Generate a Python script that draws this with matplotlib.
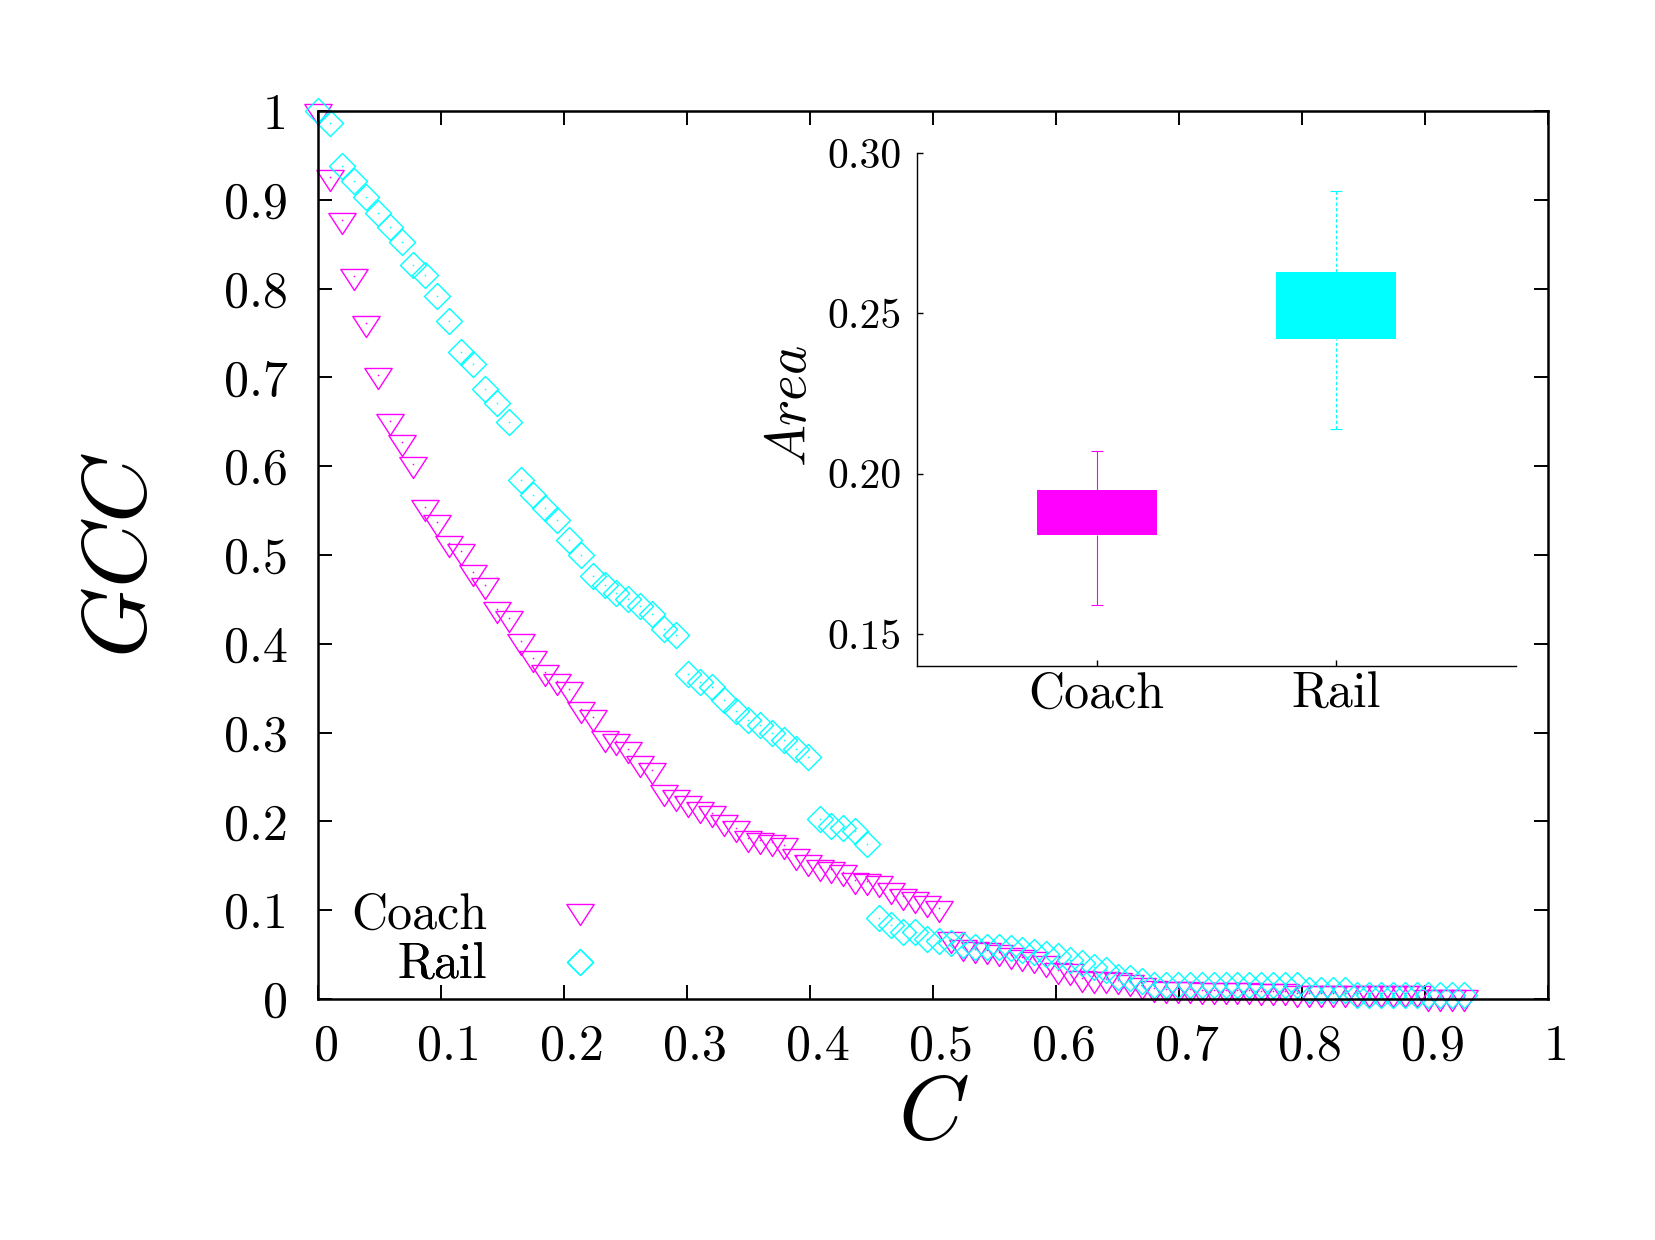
import numpy as np
import matplotlib
matplotlib.use('Agg')
import matplotlib.pyplot as plt
from matplotlib.path import Path
from matplotlib.transforms import ScaledTranslation

# ---------------- data ----------------
C = [0.0000, 0.0097, 0.0194, 0.0291, 0.0388, 0.0485, 0.0583, 0.0680, 0.0777, 0.0874,
     0.0971, 0.1068, 0.1165, 0.1262, 0.1359, 0.1456, 0.1553, 0.1650, 0.1748, 0.1845,
     0.1942, 0.2039, 0.2136, 0.2233, 0.2330, 0.2427, 0.2524, 0.2621, 0.2718, 0.2816,
     0.2913, 0.3010, 0.3107, 0.3204, 0.3301, 0.3398, 0.3495, 0.3592, 0.3689, 0.3786,
     0.3883, 0.3981, 0.4078, 0.4175, 0.4272, 0.4369, 0.4466, 0.4563, 0.4660, 0.4757,
     0.4854, 0.4951, 0.5049, 0.5146, 0.5243, 0.5340, 0.5437, 0.5534, 0.5631, 0.5728,
     0.5825, 0.5922, 0.6019, 0.6117, 0.6214, 0.6311, 0.6408, 0.6505, 0.6602, 0.6699,
     0.6796, 0.6893, 0.6990, 0.7087, 0.7184, 0.7282, 0.7379, 0.7476, 0.7573, 0.7670,
     0.7767, 0.7864, 0.7961, 0.8058, 0.8155, 0.8252, 0.8350, 0.8447, 0.8544, 0.8641,
     0.8738, 0.8835, 0.8932, 0.9029, 0.9126, 0.9223, 0.9320]

coach_gcc = [1.000, 0.926, 0.877, 0.814, 0.761, 0.703, 0.651, 0.627, 0.603, 0.554,
             0.537, 0.513, 0.504, 0.481, 0.466, 0.439, 0.429, 0.403, 0.384, 0.368,
             0.358, 0.349, 0.327, 0.317, 0.294, 0.290, 0.281, 0.266, 0.258, 0.233,
             0.227, 0.221, 0.214, 0.209, 0.199, 0.193, 0.181, 0.179, 0.177, 0.173,
             0.161, 0.154, 0.149, 0.146, 0.143, 0.134, 0.133, 0.131, 0.123, 0.116,
             0.113, 0.108, 0.102, 0.067, 0.058, 0.056, 0.055, 0.053, 0.049, 0.047,
             0.045, 0.040, 0.033, 0.031, 0.024, 0.023, 0.022, 0.021, 0.019, 0.016,
             0.012, 0.011, 0.011, 0.011, 0.010, 0.010, 0.010, 0.010, 0.010, 0.009,
             0.009, 0.009, 0.007, 0.007, 0.007, 0.007, 0.007, 0.007, 0.007, 0.007,
             0.007, 0.007, 0.007, 0.002, 0.002, 0.002, 0.002]

rail_gcc = [1.000, 0.986, 0.938, 0.921, 0.903, 0.885, 0.869, 0.852, 0.827, 0.815,
            0.792, 0.763, 0.729, 0.715, 0.687, 0.671, 0.650, 0.584, 0.568, 0.553,
            0.539, 0.517, 0.500, 0.476, 0.466, 0.457, 0.450, 0.442, 0.434, 0.417,
            0.410, 0.366, 0.357, 0.351, 0.337, 0.324, 0.314, 0.309, 0.299, 0.292,
            0.282, 0.273, 0.203, 0.195, 0.193, 0.189, 0.174, 0.091, 0.083, 0.075,
            0.075, 0.068, 0.065, 0.063, 0.061, 0.059, 0.059, 0.058, 0.057, 0.055,
            0.053, 0.051, 0.048, 0.044, 0.040, 0.036, 0.033, 0.025, 0.024, 0.020,
            0.016, 0.016, 0.016, 0.016, 0.016, 0.016, 0.016, 0.016, 0.016, 0.016,
            0.016, 0.016, 0.016, 0.010, 0.010, 0.010, 0.010, 0.005, 0.005, 0.005,
            0.005, 0.005, 0.005, 0.005, 0.005, 0.005, 0.005]

series_names = ['Coach', 'Rail']

main_ticks = [0.0, 0.1, 0.2, 0.3, 0.4, 0.5, 0.6, 0.7, 0.8, 0.9, 1.0]
main_tick_labels = ['0', '0.1', '0.2', '0.3', '0.4', '0.5', '0.6', '0.7', '0.8', '0.9', '1']

box_cats = ['Coach', 'Rail']
box_low = [0.159, 0.214]
box_q1 = [0.181, 0.242]
box_q3 = [0.195, 0.263]
box_high = [0.207, 0.288]
inset_ticks = [0.15, 0.20, 0.25, 0.30]
inset_tick_labels = ['0.15', '0.20', '0.25', '0.30']

# ---------------- style ----------------
MAG = '#ff00ff'
CYA = '#00ffff'
plt.rcParams['mathtext.fontset'] = 'cm'
plt.rcParams['font.family'] = ['cmr10', 'DejaVu Serif']
plt.rcParams['axes.unicode_minus'] = False

fig = plt.figure(figsize=(16.55, 12.4), dpi=100)
ax = fig.add_axes([0.1921, 0.1944, 0.7432, 0.7161])

tri = Path([(-1, 0.513), (1, 0.513), (0, -1.026), (-1, 0.513)], closed=True)
dia = Path([(0, 1), (1, 0), (0, -1), (-1, 0), (0, 1)], closed=True)

l_coach, = ax.plot(C, coach_gcc, ls='none', marker=tri, ms=20.2, mfc='none',
                   mec=MAG, mew=1.0, clip_on=False, label=series_names[0])
ax.plot(C, coach_gcc, ls='none', marker='o', ms=1.2, mfc=MAG, mec='none', clip_on=False)
l_rail, = ax.plot(C, rail_gcc, ls='none', marker=dia, ms=18.7, mfc='none',
                  mec=CYA, mew=1.0, clip_on=False, label=series_names[1])
ax.plot(C, rail_gcc, ls='none', marker='o', ms=1.2, mfc=CYA, mec='none', clip_on=False)

ax.set_xlim(0, 1)
ax.set_ylim(0, 1)
ax.set_xticks(main_ticks)
ax.set_xticklabels(main_tick_labels)
ax.set_yticks(main_ticks)
ax.set_yticklabels(main_tick_labels)
ax.tick_params(direction='in', length=10, width=1.4, top=True, right=True,
               labelsize=36)
ax.tick_params(axis='x', pad=18)
ax.tick_params(axis='y', pad=21.5)
shift = ScaledTranslation(8.5 / 100, 0, fig.dpi_scale_trans)
for lab in ax.get_xticklabels():
    lab.set_transform(lab.get_transform() + shift)
for s in ax.spines.values():
    s.set_linewidth(1.8)

ax.set_xlabel(r'$C$', fontsize=65)
ax.xaxis.set_label_coords(0.5, -0.086)
ax.set_ylabel(r'$GCC$', fontsize=65)
ax.yaxis.set_label_coords(-0.125, 0.5)

# legend: right-aligned entries, marker after text
for handle, name, ya in [(l_coach, series_names[0], 0.0935), (l_rail, series_names[1], 0.037)]:
    leg = ax.legend([handle], [name], loc='center right', bbox_to_anchor=(0.2337, ya),
                    bbox_transform=ax.transAxes, markerfirst=False, frameon=False,
                    borderpad=0, borderaxespad=0, handlelength=1.0, handletextpad=1.37,
                    numpoints=1, prop={'family': 'cmr10', 'size': 36})
    ax.add_artist(leg)

# ---------------- inset ----------------
ins = fig.add_axes([0.5541, 0.4629, 0.3619, 0.4137])
ins.set_facecolor('none')
pos = np.arange(1, len(box_cats) + 1)
ins.bar(pos, np.subtract(box_q3, box_q1), bottom=box_q1, width=0.5,
        color=[MAG, CYA], edgecolor='none', zorder=2)
styles = ['solid', (0, (3, 2))]
cols = [MAG, CYA]
for i in range(len(box_cats)):
    ins.vlines(pos[i], box_low[i], box_q1[i], color=cols[i], lw=0.8, linestyles=styles[i])
    ins.vlines(pos[i], box_q3[i], box_high[i], color=cols[i], lw=0.8, linestyles=styles[i])
    ins.hlines([box_low[i], box_high[i]], pos[i] - 0.025, pos[i] + 0.025,
               color=cols[i], lw=0.8)
ins.set_xlim(0.25, 2.75)
ins.set_ylim(0.14, 0.30)
ins.set_xticks(pos)
ins.set_xticklabels(box_cats, fontsize=36)
ins.set_yticks(inset_ticks)
ins.set_yticklabels(inset_tick_labels, fontsize=30)
ins.spines['top'].set_visible(False)
ins.spines['right'].set_visible(False)
for s in ['left', 'bottom']:
    ins.spines[s].set_linewidth(1.0)
ins.tick_params(direction='in', length=4, width=1.0)
ins.tick_params(axis='y', pad=11)
ins.tick_params(axis='x', pad=4)
ins.set_ylabel(r'$Area$', fontsize=40)
ins.yaxis.set_label_coords(-0.1665, 0.507)

fig.savefig('out.png', dpi=100)
